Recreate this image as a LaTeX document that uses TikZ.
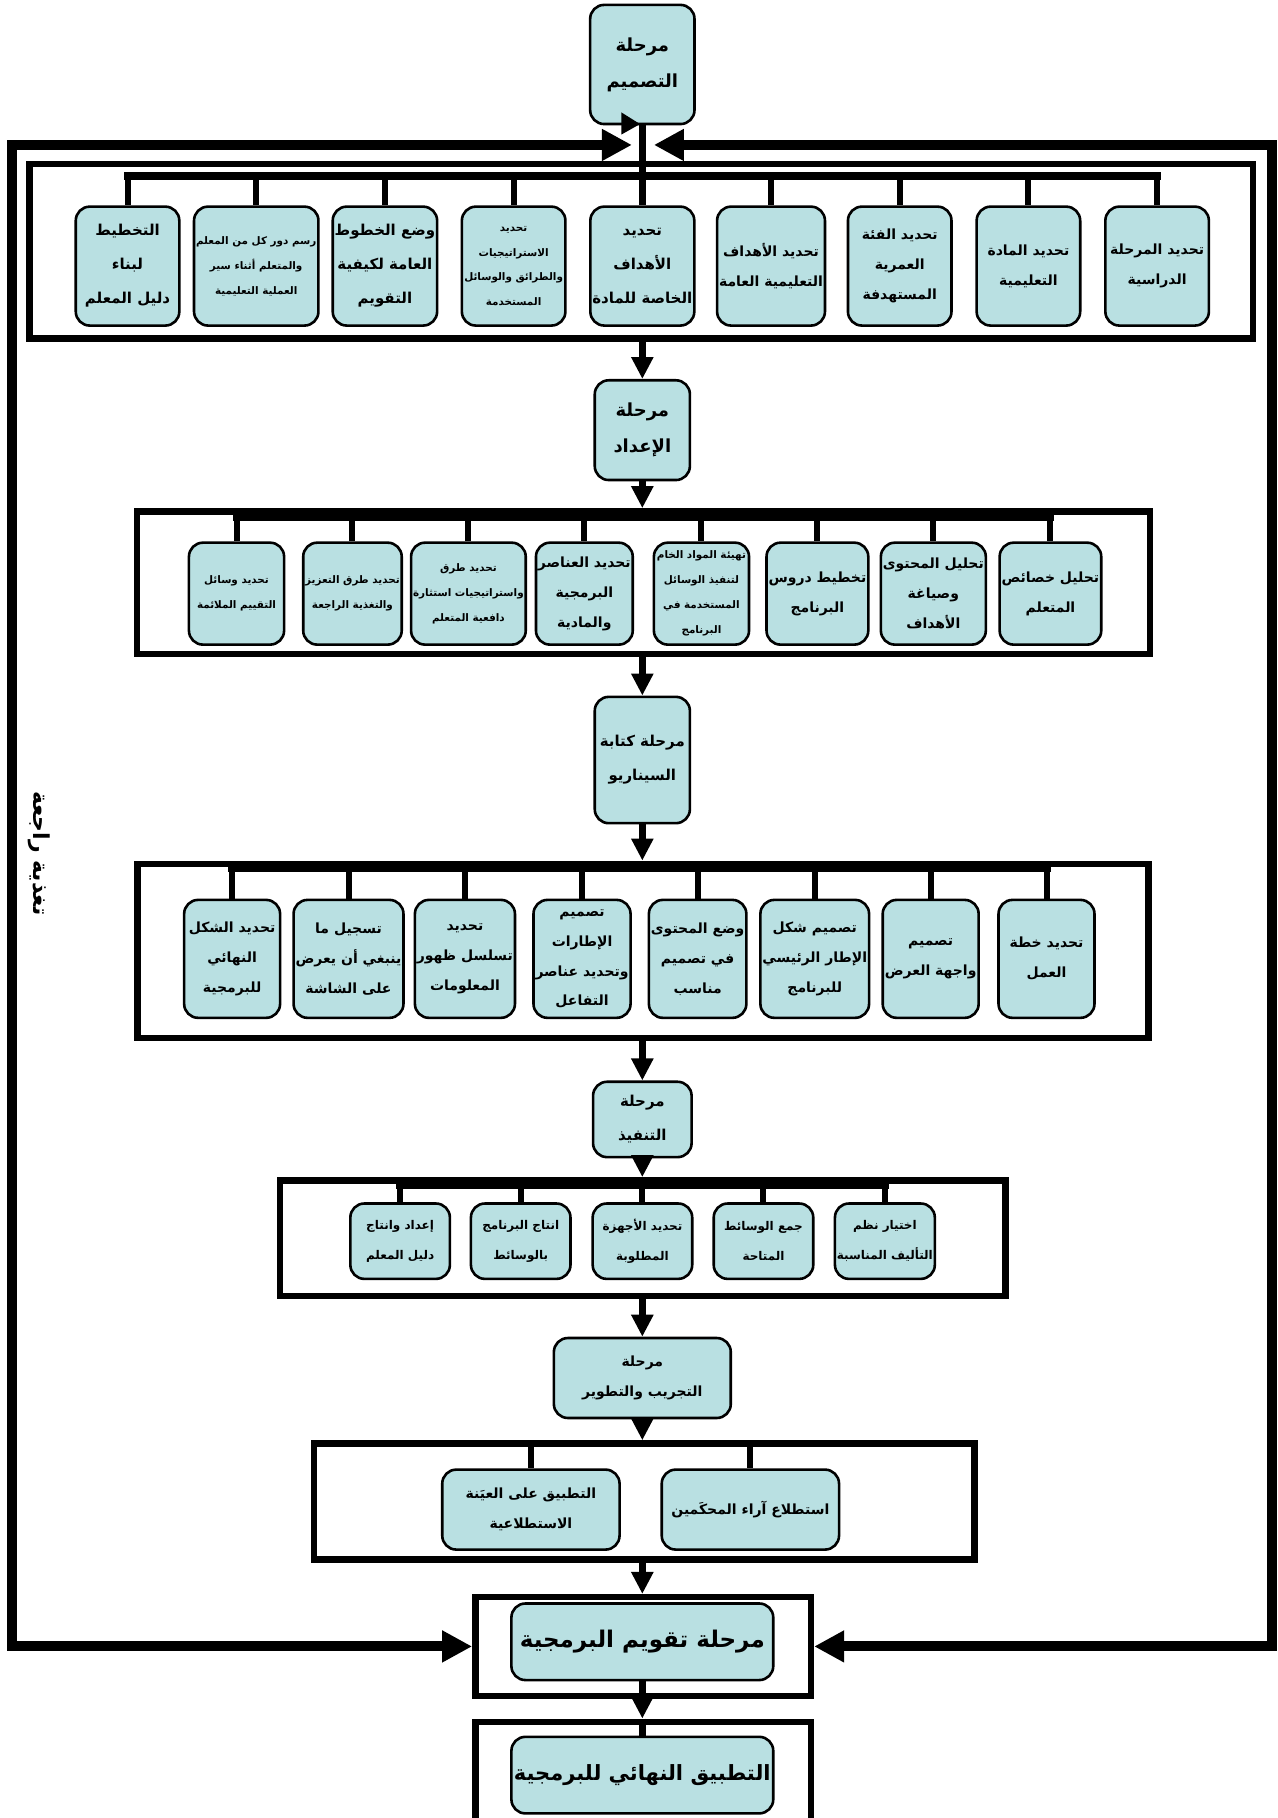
\documentclass[tikz,border=0pt]{standalone}
\usepackage{fontspec}
\usepackage{tikz}
\usetikzlibrary{arrows.meta}
\TeXXeTstate=1
\newfontfamily\arabicfont[Script=Arabic]{DejaVu Sans}
\newcommand{\artxt}[1]{\beginR #1\endR}
\definecolor{boxfill}{RGB}{185,224,226}

\tikzset{
  stage/.style={draw, line width=1.3pt, rounded corners=7pt, fill=boxfill, align=center, inner sep=1pt},
  groupframe/.style={draw, line width=3.2pt},
  bus/.style={line width=4pt, line cap=rect},
  branch/.style={line width=3pt},
  link/.style={line width=3.5pt, -{Triangle[length=11pt,width=10.5pt]}},
  feedline/.style={line width=5pt, {Triangle[length=15pt,width=15pt]}-{Triangle[length=15pt,width=15pt]}},
  hugetxt/.style={font=\arabicfont\bfseries\fontsize{11.5}{14}\selectfont},
  finaltxt/.style={font=\arabicfont\bfseries\fontsize{10.5}{14}\selectfont},
  bigtxt/.style={font=\arabicfont\bfseries\fontsize{9}{18}\selectfont},
  rowtxt/.style={font=\arabicfont\bfseries\fontsize{7.5}{17}\selectfont},
  midtxt/.style={font=\arabicfont\bfseries\fontsize{7}{15}\selectfont},
  lowtxt/.style={font=\arabicfont\bfseries\fontsize{6}{15}\selectfont},
  smalltxt/.style={font=\arabicfont\bfseries\fontsize{5.2}{12.5}\selectfont},
  drow/.style={stage, minimum width=51.8pt, minimum height=59.5pt},
  prow/.style={stage, minimum width=47.6pt, minimum height=51pt},
  srow/.style={stage, minimum width=48pt, minimum height=59pt},
  erow/.style={stage, minimum width=49.8pt, minimum height=37.7pt},
  trow/.style={stage, minimum width=88.7pt, minimum height=40pt},
}

\begin{document}
\begin{tikzpicture}[x=0.58pt,y=0.58pt,yscale=-1]
\useasboundingbox (0,0) rectangle (1102,1568);

%Shape: group frames
\node[groupframe, minimum width=611.9pt, minimum height=87.3pt] (fdesign) at (553,216.75) {};
\node[groupframe, minimum width=506.9pt, minimum height=71.3pt] (fprep) at (555,502.5) {};
\node[groupframe, minimum width=505.8pt, minimum height=87pt] (fscen) at (554.5,820) {};
\node[groupframe, minimum width=362.8pt, minimum height=58pt] (fexec) at (554.3,1068) {};
\node[groupframe, minimum width=330.3pt, minimum height=58pt] (ftrial) at (555.7,1295) {};
\node[groupframe, minimum width=167.9pt, minimum height=49.3pt] (feval) at (554.7,1420) {};
\node[groupframe, minimum width=167.9pt, minimum height=55.1pt] (ffinal) at (554.7,1532.5) {};

%Stage boxes
\node[stage, bigtxt, minimum width=52.2pt, minimum height=59.6pt] (sdesign) at (554,55.6) {\artxt{مرحلة}\\\artxt{التصميم}};
\node[stage, bigtxt, minimum width=47.6pt, minimum height=49.9pt] (sprep) at (554,371) {\artxt{مرحلة}\\\artxt{الإعداد}};
\node[stage, rowtxt, minimum width=47.6pt, minimum height=63.2pt] (sscen) at (554,655.5) {\artxt{مرحلة كتابة}\\\artxt{السيناريو}};
\node[stage, rowtxt, minimum width=49.3pt, minimum height=37.7pt] (sexec) at (554,965.5) {\artxt{مرحلة}\\\artxt{التنفيذ}};
\node[stage, midtxt, minimum width=88.5pt, minimum height=40pt] (strial) at (554,1188.5) {\artxt{مرحلة}\\\artxt{التجريب والتطوير}};
\node[stage, hugetxt, minimum width=131pt, minimum height=38.3pt] (seval) at (554,1416) {\artxt{مرحلة تقويم البرمجية}};
\node[stage, finaltxt, minimum width=131pt, minimum height=38.3pt] (sfinal) at (554,1531) {\artxt{التطبيق النهائي للبرمجية}};

% design tasks
\node[drow, midtxt] (d1) at (998,229.5) {\artxt{تحديد المرحلة}\\\artxt{الدراسية}};
\node[drow, midtxt] (d2) at (887,229.5) {\artxt{تحديد المادة}\\\artxt{التعليمية}};
\node[drow, midtxt] (d3) at (776,229.5) {\artxt{تحديد الفئة}\\\artxt{العمرية}\\\artxt{المستهدفة}};
\node[drow, midtxt] (d4) at (665,229.5) {\artxt{تحديد الأهداف}\\\artxt{التعليمية العامة}};
\node[drow, rowtxt] (d5) at (554,229.5) {\artxt{تحديد}\\\artxt{الأهداف}\\\artxt{الخاصة للمادة}};
\node[drow, smalltxt] (d6) at (443,229.5) {\artxt{تحديد}\\\artxt{الاستراتيجيات}\\\artxt{والطرائق والوسائل}\\\artxt{المستخدمة}};
\node[drow, rowtxt] (d7) at (332,229.5) {\artxt{وضع الخطوط}\\\artxt{العامة لكيفية}\\\artxt{التقويم}};
\node[drow, smalltxt] (d8) at (221,229.5) {\artxt{رسم دور كل من المعلم}\\\artxt{والمتعلم أثناء سير}\\\artxt{العملية التعليمية}};
\node[drow, rowtxt] (d9) at (110,229.5) {\artxt{التخطيط}\\\artxt{لبناء}\\\artxt{دليل المعلم}};

% preparation tasks
\node[prow, midtxt] (p1) at (906,512) {\artxt{تحليل خصائص}\\\artxt{المتعلم}};
\node[prow, midtxt] (p2) at (805,512) {\artxt{تحليل المحتوى}\\\artxt{وصياغة}\\\artxt{الأهداف}};
\node[prow, midtxt] (p3) at (705,512) {\artxt{تخطيط دروس}\\\artxt{البرنامج}};
\node[prow, smalltxt] (p4) at (605,512) {\artxt{تهيئة المواد الخام}\\\artxt{لتنفيذ الوسائل}\\\artxt{المستخدمة في}\\\artxt{البرنامج}};
\node[prow, midtxt] (p5) at (504,512) {\artxt{تحديد العناصر}\\\artxt{البرمجية}\\\artxt{والمادية}};
\node[prow, smalltxt] (p6) at (404,512) {\artxt{تحديد طرق}\\\artxt{واستراتيجيات استثارة}\\\artxt{دافعية المتعلم}};
\node[prow, smalltxt] (p7) at (304,512) {\artxt{تحديد طرق التعزيز}\\\artxt{والتغذية الراجعة}};
\node[prow, smalltxt] (p8) at (204,512) {\artxt{تحديد وسائل}\\\artxt{التقييم الملائمة}};

% scenario tasks
\node[srow, midtxt] (s1) at (902.6,827) {\artxt{تحديد خطة}\\\artxt{العمل}};
\node[srow, midtxt] (s2) at (802.7,827) {\artxt{تصميم}\\\artxt{واجهة العرض}};
\node[srow, midtxt] (s3) at (702.7,827) {\artxt{تصميم شكل}\\\artxt{الإطار الرئيسي}\\\artxt{للبرنامج}};
\node[srow, midtxt] (s4) at (601.7,827) {\artxt{وضع المحتوى}\\\artxt{في تصميم}\\\artxt{مناسب}};
\node[srow, midtxt] (s5) at (502,827) {\artxt{تصميم}\\\artxt{الإطارات}\\\artxt{وتحديد عناصر}\\\artxt{التفاعل}};
\node[srow, midtxt] (s6) at (401,827) {\artxt{تحديد}\\\artxt{تسلسل ظهور}\\\artxt{المعلومات}};
\node[srow, midtxt] (s7) at (300.6,827) {\artxt{تسجيل ما}\\\artxt{ينبغي أن يعرض}\\\artxt{على الشاشة}};
\node[srow, midtxt] (s8) at (200.2,827) {\artxt{تحديد الشكل}\\\artxt{النهائي}\\\artxt{للبرمجية}};

% execution tasks
\node[erow, lowtxt] (e1) at (763.2,1070.5) {\artxt{اختيار نظم}\\\artxt{التأليف المناسبة}};
\node[erow, lowtxt] (e2) at (658.5,1070.5) {\artxt{جمع الوسائط}\\\artxt{المتاحة}};
\node[erow, lowtxt] (e3) at (554.1,1070.5) {\artxt{تحديد الأجهزة}\\\artxt{المطلوبة}};
\node[erow, lowtxt] (e4) at (449.1,1070.5) {\artxt{انتاج البرنامج}\\\artxt{بالوسائط}};
\node[erow, lowtxt] (e5) at (345.1,1070.5) {\artxt{إعداد وانتاج}\\\artxt{دليل المعلم}};

% trial tasks
\node[trow, midtxt] (t1) at (647.2,1302) {\artxt{استطلاع آراء المحكَمين}};
\node[trow, midtxt] (t2) at (457.9,1302) {\artxt{التطبيق على العيَنة}\\\artxt{الاستطلاعية}};

%Straight Lines: buses and branches
\coordinate (dbus) at (554,152);
\draw[bus] (d9 |- dbus) -- (d1 |- dbus);
\draw[branch] (d1 |- dbus) -- (d1.north);
\draw[branch] (d2 |- dbus) -- (d2.north);
\draw[branch] (d3 |- dbus) -- (d3.north);
\draw[branch] (d4 |- dbus) -- (d4.north);
\draw[branch] (d6 |- dbus) -- (d6.north);
\draw[branch] (d7 |- dbus) -- (d7.north);
\draw[branch] (d8 |- dbus) -- (d8.north);
\draw[branch] (d9 |- dbus) -- (d9.north);
\draw[branch, line width=3.5pt] (sdesign) -- (d5);

\coordinate (pbus) at (554,446);
\draw[bus] (p8 |- pbus) -- (p1 |- pbus);
\draw[branch] (p1 |- pbus) -- (p1.north);
\draw[branch] (p2 |- pbus) -- (p2.north);
\draw[branch] (p3 |- pbus) -- (p3.north);
\draw[branch] (p4 |- pbus) -- (p4.north);
\draw[branch] (p5 |- pbus) -- (p5.north);
\draw[branch] (p6 |- pbus) -- (p6.north);
\draw[branch] (p7 |- pbus) -- (p7.north);
\draw[branch] (p8 |- pbus) -- (p8.north);

\coordinate (sbus) at (554,749);
\draw[bus] (s8 |- sbus) -- (s1 |- sbus);
\draw[branch] (s1 |- sbus) -- (s1.north);
\draw[branch] (s2 |- sbus) -- (s2.north);
\draw[branch] (s3 |- sbus) -- (s3.north);
\draw[branch] (s4 |- sbus) -- (s4.north);
\draw[branch] (s5 |- sbus) -- (s5.north);
\draw[branch] (s6 |- sbus) -- (s6.north);
\draw[branch] (s7 |- sbus) -- (s7.north);
\draw[branch] (s8 |- sbus) -- (s8.north);

\coordinate (ebus) at (554,1022);
\draw[bus] (e5 |- ebus) -- (e1 |- ebus);
\draw[branch] (e1 |- ebus) -- (e1.north);
\draw[branch] (e2 |- ebus) -- (e2.north);
\draw[branch] (e3 |- ebus) -- (e3.north);
\draw[branch] (e4 |- ebus) -- (e4.north);
\draw[branch] (e5 |- ebus) -- (e5.north);

\draw[branch] (t1 |- ftrial.north) -- (t1.north);
\draw[branch] (t2 |- ftrial.north) -- (t2.north);

%Straight Lines: stage arrows
\draw[link] (sprep |- fdesign.south) -- (sprep.north);
\draw[link] (sprep.south) -- (sprep |- fprep.north);
\draw[link] (sscen |- fprep.south) -- (sscen.north);
\draw[link] (sscen.south) -- (sscen |- fscen.north);
\draw[link] (sexec |- fscen.south) -- (sexec.north);
\draw[link] (sexec.south) -- (sexec |- fexec.north);
\draw[link] (strial |- fexec.south) -- (strial.north);
\draw[link] (strial.south) -- (strial |- ftrial.north);
\draw[link] (seval |- ftrial.south) -- (seval |- feval.north);
\draw[link] (seval.south) -- (seval |- ffinal.north);
\draw[branch, line width=3.5pt] (seval |- ffinal.north) -- (sfinal.north);

%Shape: small head under the design stage
\fill (536,97) -- (552,107) -- (536,116) -- cycle;

%Straight Lines: feedback loop
\coordinate (fbinl) at (545,125);
\coordinate (fbinr) at (564,125);
\coordinate (fbcornl) at (10,125);
\coordinate (fbcornr) at (1097,125);
\draw[feedline] (fbinl) -- (fbcornl) |- (feval.west);
\draw[feedline] (fbinr) -- (fbcornr) |- (feval.east);

% Text Node
\node[rotate=-90, font=\arabicfont\bfseries\fontsize{11}{13}\selectfont] (fblabel) at (34,736) {\artxt{تغذية راجعة}};
\end{tikzpicture}
\end{document}
